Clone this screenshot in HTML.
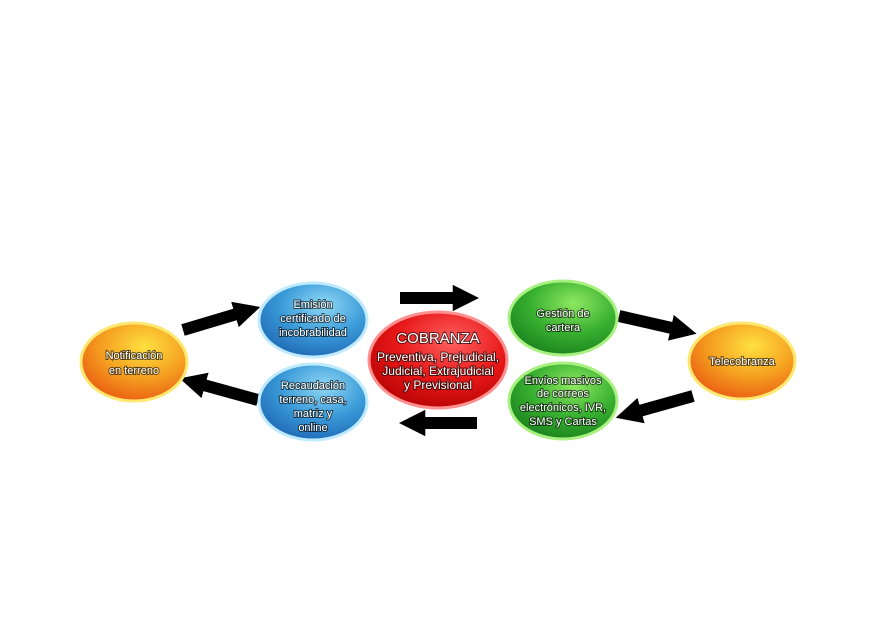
<!DOCTYPE html>
<html><head><meta charset="utf-8"><style>
body{margin:0;background:#fff;width:877px;height:638px;overflow:hidden}
text{font-family:"Liberation Sans",sans-serif;fill:#fff;text-anchor:middle;font-size:11px;paint-order:stroke;stroke:rgba(0,0,0,0.6);stroke-width:2px}
</style></head><body>
<svg width="877" height="638" viewBox="0 0 877 638">
<defs>
<radialGradient id="o" cx="0.6" cy="0.3" r="0.8"><stop offset="0" stop-color="#ffe040"/><stop offset="0.5" stop-color="#f5a020"/><stop offset="1" stop-color="#e85010"/></radialGradient>
<radialGradient id="b" cx="0.6" cy="0.3" r="0.8"><stop offset="0" stop-color="#8fd8f5"/><stop offset="0.5" stop-color="#3a9ad8"/><stop offset="1" stop-color="#1a60b0"/></radialGradient>
<radialGradient id="r" cx="0.6" cy="0.3" r="0.8"><stop offset="0" stop-color="#ff6060"/><stop offset="0.5" stop-color="#e81818"/><stop offset="1" stop-color="#b00000"/></radialGradient>
<radialGradient id="g" cx="0.6" cy="0.3" r="0.8"><stop offset="0" stop-color="#8ee860"/><stop offset="0.5" stop-color="#38b030"/><stop offset="1" stop-color="#157a1a"/></radialGradient>
<marker id="a" viewBox="0 0 10 10" refX="2" refY="5" markerWidth="2.2" markerHeight="2.2" orient="auto"><path d="M0,0L10,5L0,10z" fill="#000"/></marker>
</defs>
<g stroke="#000" stroke-width="12" marker-end="url(#a)">
<line x1="183" y1="330" x2="240" y2="313"/>
<line x1="258" y1="400" x2="200" y2="384"/>
<line x1="400" y1="298" x2="458" y2="298"/>
<line x1="477" y1="423" x2="420" y2="423"/>
<line x1="619" y1="316" x2="676" y2="329"/>
<line x1="693" y1="396" x2="636" y2="412"/>
</g>
<g stroke-width="3">
<ellipse cx="134" cy="362" rx="53" ry="39" fill="url(#o)" stroke="#ffe870"/>
<ellipse cx="313" cy="320" rx="54" ry="37" fill="url(#b)" stroke="#bfeaff"/>
<ellipse cx="313" cy="402" rx="54" ry="38" fill="url(#b)" stroke="#bfeaff"/>
<ellipse cx="438" cy="360" rx="69" ry="48" fill="url(#r)" stroke="#ff9090"/>
<ellipse cx="563" cy="318" rx="54" ry="37" fill="url(#g)" stroke="#a8f080"/>
<ellipse cx="563" cy="401" rx="54" ry="38" fill="url(#g)" stroke="#a8f080"/>
<ellipse cx="742" cy="361" rx="53" ry="38" fill="url(#o)" stroke="#ffe870"/>
</g>
<text x="134" y="359">Notificación</text><text x="134" y="374">en terreno</text>
<text x="313" y="308">Emisión</text><text x="313" y="322">certificado de</text><text x="313" y="336">incobrabilidad</text>
<text x="313" y="389">Recaudación</text><text x="313" y="403">terreno, casa,</text><text x="313" y="417">matriz y</text><text x="313" y="431">online</text>
<text x="438" y="343" style="font-size:15px">COBRANZA</text>
<text x="438" y="361" style="font-size:12px">Preventiva, Prejudicial,</text>
<text x="438" y="375" style="font-size:12px">Judicial, Extrajudicial</text>
<text x="438" y="389" style="font-size:12px">y Previsional</text>
<text x="563" y="317">Gestión de</text><text x="563" y="331">cartera</text>
<text x="563" y="384">Envíos masivos</text><text x="563" y="397">de correos</text><text x="563" y="411">electrónicos, IVR,</text><text x="563" y="425">SMS y Cartas</text>
<text x="742" y="365">Telecobranza</text>
</svg>
</body></html>
